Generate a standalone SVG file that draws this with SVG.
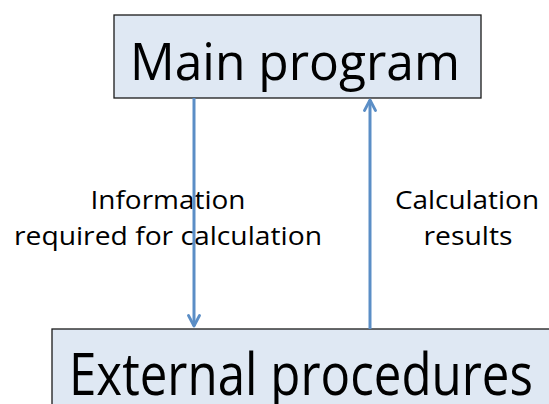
<svg xmlns="http://www.w3.org/2000/svg" width="549" height="404" viewBox="0 0 549 404">
  <style>
    .box { fill: #dfe8f3; stroke: #1a1a1a; stroke-width: 1.3; }
    .title { font-family: "Open Sans", "Liberation Sans", sans-serif; fill: #000; }
    .label { font-family: "Open Sans", "Liberation Sans", sans-serif; font-size: 26px; fill: #000; text-anchor: middle; }
    .flow { stroke: #5b8ec6; stroke-width: 3; fill: none; marker-end: url(#head); }
  </style>
  <defs>
    <marker id="head" viewBox="0 0 14 14" refX="12" refY="7" markerWidth="14" markerHeight="14" markerUnits="userSpaceOnUse" orient="auto">
      <path d="M1.5 1.5 L12 7 L1.5 12.5" fill="none" stroke="#5b8ec6" stroke-width="2.8" stroke-linecap="round" stroke-linejoin="round"/>
    </marker>
  </defs>
  <rect width="549" height="404" fill="#ffffff"/>

  <g id="main-program">
    <rect class="box" x="114" y="15" width="367" height="83"/>
    <text class="title" x="130" y="80" font-size="52" textLength="330" lengthAdjust="spacingAndGlyphs">Main program</text>
  </g>

  <g id="external-procedures">
    <rect class="box" x="52" y="329" width="510" height="90"/>
    <text class="title" x="69" y="395" font-size="58" textLength="464" lengthAdjust="spacingAndGlyphs">External procedures</text>
  </g>

  <g id="labels">
    <text class="label" x="168" y="209" textLength="155" lengthAdjust="spacingAndGlyphs">Information</text>
    <text class="label" x="168" y="245" textLength="308" lengthAdjust="spacingAndGlyphs">required for calculation</text>
    <text class="label" x="467" y="209" textLength="144" lengthAdjust="spacingAndGlyphs">Calculation</text>
    <text class="label" x="468" y="245" textLength="89" lengthAdjust="spacingAndGlyphs">results</text>
  </g>

  <g id="connectors">
    <line class="flow" x1="194" y1="98" x2="194" y2="326"/>
    <line class="flow" x1="370" y1="329" x2="370" y2="100"/>
  </g>
</svg>
